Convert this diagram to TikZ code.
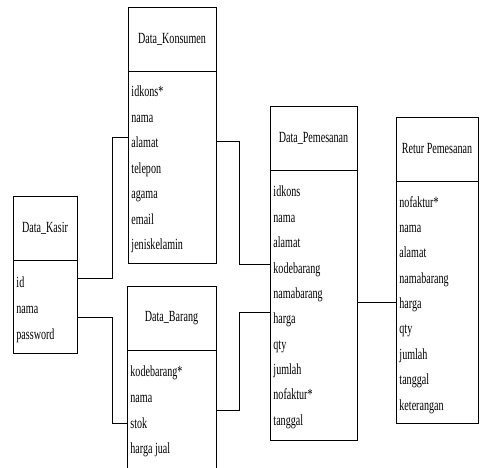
\documentclass[tikz,border=0pt]{standalone}
\usepackage{fontspec}
\setmainfont{Liberation Serif}[FakeStretch=0.65]
\usetikzlibrary{positioning}
\begin{document}
\begin{tikzpicture}[
  x=1pt, y=-1pt,
  every node/.style={font=\fontsize{15.5pt}{17pt}\selectfont},
  head/.style={rectangle, draw, inner sep=0pt, outer sep=0pt, minimum height=64pt},
  body/.style={rectangle, draw, inner sep=0pt, outer sep=0pt, below=0pt of #1},
  attr/.style={anchor=base west, inner sep=0pt},
  line width=0.9pt
]
  \useasboundingbox (0,0) rectangle (480,468);
  \clip (0,0) rectangle (480,468);

  % Data_Kasir
  \node[head, minimum width=64pt] (kasir) at (45,228) {Data\_Kasir};
  \node[body=kasir, minimum width=64pt, minimum height=93pt] (kasirB) {};
  \node[attr] (kasir-1) at (16,288) {id};
  \node[attr] (kasir-2) at (16,313.5) {nama};
  \node[attr] (kasir-3) at (16,339) {password};

  % Data_Konsumen
  \node[head, minimum width=88pt] (kons) at (172,39) {Data\_Konsumen};
  \node[body=kons, minimum width=88pt, minimum height=192pt] (konsB) {};
  \node[attr] (kons-1) at (131,97) {idkons*};
  \node[attr] (kons-2) at (131,122.5) {nama};
  \node[attr] (kons-3) at (131,148) {alamat};
  \node[attr] (kons-4) at (131,173.5) {telepon};
  \node[attr] (kons-5) at (131,199) {agama};
  \node[attr] (kons-6) at (131,224.5) {email};
  \node[attr] (kons-7) at (131,250) {jeniskelamin};

  % Data_Barang
  \node[head, minimum width=89pt] (barang) at (171.5,318.5) {Data\_Barang};
  \node[body=barang, minimum width=89pt, minimum height=130pt] (barangB) {};
  \node[attr] (barang-1) at (130,377) {kodebarang*};
  \node[attr] (barang-2) at (130,402.5) {nama};
  \node[attr] (barang-3) at (130,428) {stok};
  \node[attr] (barang-4) at (130,453.5) {harga jual};

  % Data_Pemesanan
  \node[head, minimum width=87pt] (pesan) at (313.5,138) {Data\_Pemesanan};
  \node[body=pesan, minimum width=87pt, minimum height=270pt] (pesanB) {};
  \node[attr] (pesan-1) at (273,197) {idkons};
  \node[attr] (pesan-2) at (273,222.3) {nama};
  \node[attr] (pesan-3) at (273,247.7) {alamat};
  \node[attr] (pesan-4) at (273,273) {kodebarang};
  \node[attr] (pesan-5) at (273,298.3) {namabarang};
  \node[attr] (pesan-6) at (273,323.7) {harga};
  \node[attr] (pesan-7) at (273,349) {qty};
  \node[attr] (pesan-8) at (273,374.3) {jumlah};
  \node[attr] (pesan-9) at (273,399.7) {nofaktur*};
  \node[attr] (pesan-10) at (273,425) {tanggal};

  % Retur Pemesanan
  \node[head, minimum width=82pt] (retur) at (437,149) {Retur Pemesanan};
  \node[body=retur, minimum width=82pt, minimum height=242pt] (returB) {};
  \node[attr] (retur-1) at (399,207.3) {nofaktur*};
  \node[attr] (retur-2) at (399,232.7) {nama};
  \node[attr] (retur-3) at (399,258) {alamat};
  \node[attr] (retur-4) at (399,283.3) {namabarang};
  \node[attr] (retur-5) at (399,308.7) {harga};
  \node[attr] (retur-6) at (399,334) {qty};
  \node[attr] (retur-7) at (399,359.3) {jumlah};
  \node[attr] (retur-8) at (399,384.7) {tanggal};
  \node[attr] (retur-9) at (399,410) {keterangan};

  % relasi
  \draw (kasirB.east |- 0,278) -- ++(35,0) |- (konsB.west |- 0,137);
  \draw (kasirB.east |- 0,317) -- ++(35,0) |- (barangB.west |- 0,423);
  \draw (konsB.east |- 0,141) -- ++(23,0) |- (pesanB.west |- 0,264);
  \draw (barangB.east |- 0,410) -- ++(23,0) |- (pesanB.west |- 0,312);
  \draw (pesanB.east |- 0,302) -- (returB.west |- 0,302);
\end{tikzpicture}
\end{document}
